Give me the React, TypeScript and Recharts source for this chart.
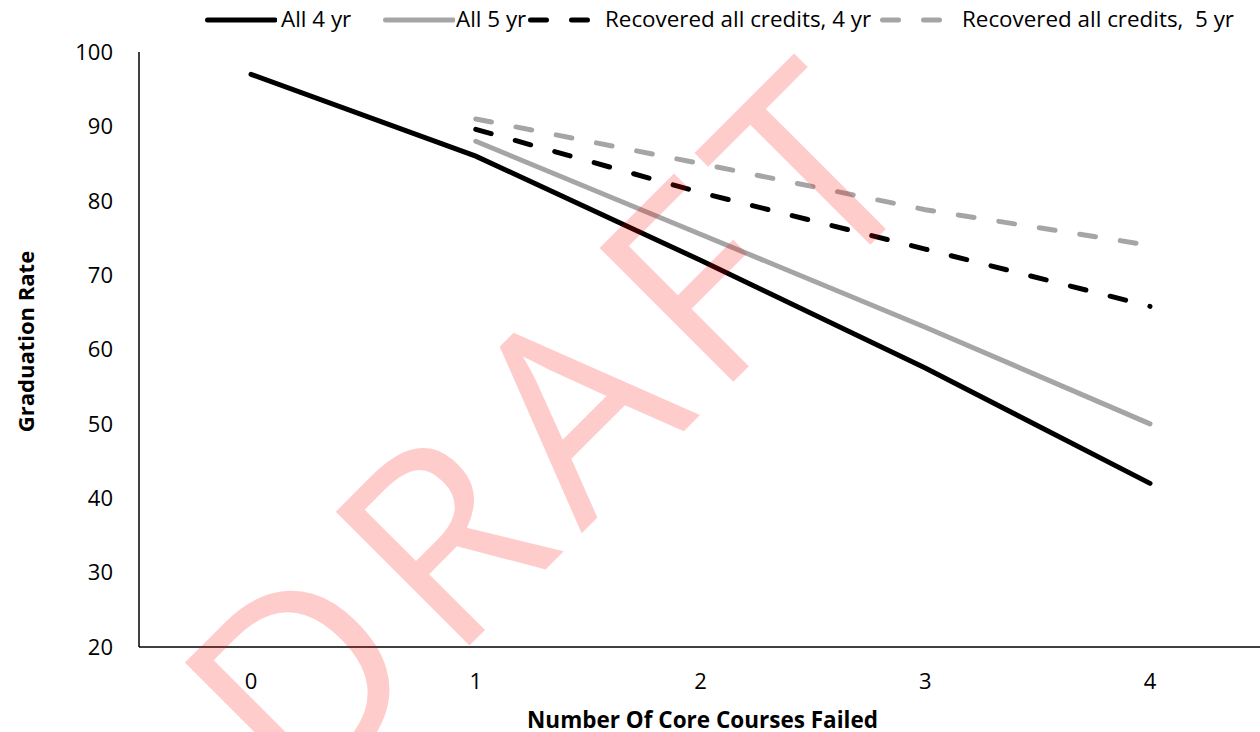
import React from 'react';
import { LineChart, Line, XAxis, YAxis, Legend } from 'recharts';

const failed = ['0', '1', '2', '3', '4'];
const all4yr = [97, 86, 72, 57.5, 42];
const all5yr = [null, 88, 75.5, 63, 50];
const recovered4yr = [null, 89.6, 81.1, 73.5, 65.8];
const recovered5yr = [null, 91, 85, 78.8, 74];
const yTicks = [20, 30, 40, 50, 60, 70, 80, 90, 100];

const seriesNames = [
	'All 4 yr',
	'All 5 yr',
	'Recovered all credits, 4 yr',
	'Recovered all credits,  5 yr',
];

const FONT = '"Open Sans", "Noto Sans", sans-serif';
const GREY = '#A5A5A5';

const chartData = failed.map((f, i) => ({
	failed: f,
	all4: all4yr[i],
	all5: all5yr[i],
	rec4: recovered4yr[i],
	rec5: recovered5yr[i],
}));

// legend entries, x positions tuned to the reference
const legendItems = [
	{ name: seriesNames[0], color: '#000', dash: undefined, left: 205, textGap: 4 },
	{ name: seriesNames[1], color: GREY, dash: undefined, left: 383, textGap: 1 },
	{ name: seriesNames[2], color: '#000', dash: '16 25', left: 528, textGap: 5 },
	{ name: seriesNames[3], color: GREY, dash: '16 25', left: 880, textGap: 10 },
];

const CustomLegend = () => (
	<div style={{ position: 'relative', width: 1260, height: 40 }}>
		{legendItems.map((item) => (
			<div
				key={item.name}
				style={{
					position: 'absolute',
					left: item.left,
					top: 0,
					height: 40,
					display: 'flex',
					alignItems: 'center',
				}}
			>
				<svg width={72} height={10} style={{ display: 'block' }}>
					<line
						x1={2.5}
						y1={5}
						x2={70}
						y2={5}
						stroke={item.color}
						strokeWidth={5}
						strokeLinecap="round"
						strokeDasharray={item.dash}
					/>
				</svg>
				<span
					style={{
						marginLeft: item.textGap,
						marginTop: -2,
						fontFamily: FONT,
						fontSize: 22.4,
						color: '#000',
						whiteSpace: 'pre',
						lineHeight: '40px',
					}}
				>
					{item.name}
				</span>
			</div>
		))}
	</div>
);

const YTitle = (props: any) => {
	const vb = props.viewBox || { x: 0, y: 52, width: 139, height: 595 };
	const cx = vb.x + 25;
	const cy = vb.y + vb.height / 2 - 8;
	return (
		<text
			x={cx}
			y={cy}
			transform={`rotate(-90 ${cx} ${cy})`}
			textAnchor="middle"
			dominantBaseline="central"
			fontFamily={FONT}
			fontSize={22}
			fontWeight={700}
			fill="#000"
		>
			Graduation Rate
		</text>
	);
};

const XTitle = (props: any) => {
	const vb = props.viewBox || { x: 139, y: 647, width: 1121, height: 85 };
	return (
		<text
			x={vb.x + vb.width / 2 + 3}
			y={vb.y + vb.height - 4.5}
			textAnchor="middle"
			fontFamily={FONT}
			fontSize={22.5}
			fontWeight={700}
			fill="#000"
		>
			Number Of Core Courses Failed
		</text>
	);
};

export default function App() {
	const tickStyle = { fontFamily: FONT, fontSize: 22, fill: '#000' };
	return (
		<div
			style={{
				position: 'absolute',
				left: 0,
				top: 0,
				width: 1260,
				height: 732,
				background: '#fff',
			}}
		>
			<LineChart
				width={1260}
				height={732}
				data={chartData}
				margin={{ top: 12, right: 0, bottom: 0, left: 0 }}
			>
				<Legend
					verticalAlign="top"
					align="left"
					wrapperStyle={{ top: 0, left: 0 }}
					content={<CustomLegend />}
				/>
				<XAxis
					dataKey="failed"
					height={85}
					padding={{ left: 112, right: 110 }}
					tickLine={false}
					tickMargin={20}
					axisLine={{ stroke: '#000', strokeWidth: 1.5 }}
					tick={tickStyle}
					label={{ content: XTitle }}
				/>
				<YAxis
					width={139}
					domain={[20, 100]}
					ticks={yTicks}
					tickLine={false}
					tickMargin={20}
					axisLine={{ stroke: '#000', strokeWidth: 1.5 }}
					tick={tickStyle}
					label={{ content: YTitle }}
				/>
				<Line
					dataKey="all4"
					name={seriesNames[0]}
					stroke="#000"
					strokeWidth={5}
					strokeLinecap="round"
					dot={false}
					isAnimationActive={false}
				/>
				<Line
					dataKey="all5"
					name={seriesNames[1]}
					stroke={GREY}
					strokeWidth={5}
					strokeLinecap="round"
					dot={false}
					isAnimationActive={false}
				/>
				<Line
					dataKey="rec4"
					name={seriesNames[2]}
					stroke="#000"
					strokeWidth={5}
					strokeLinecap="round"
					strokeDasharray="16 25"
					dot={false}
					isAnimationActive={false}
				/>
				<Line
					dataKey="rec5"
					name={seriesNames[3]}
					stroke={GREY}
					strokeWidth={5}
					strokeLinecap="round"
					strokeDasharray="16 25"
					dot={false}
					isAnimationActive={false}
				/>
			</LineChart>
			{/* DRAFT watermark over the plot */}
			<svg
				width={1260}
				height={732}
				style={{ position: 'absolute', left: 0, top: 0, pointerEvents: 'none' }}
			>
				<text
					x={622.5}
					y={492.5}
					transform="rotate(-45 622.5 492.5)"
					textAnchor="middle"
					fontFamily={FONT}
					fontSize={265}
					letterSpacing={21}
					fill="rgba(255, 0, 0, 0.2)"
				>
					DRAFT
				</text>
			</svg>
		</div>
	);
}
